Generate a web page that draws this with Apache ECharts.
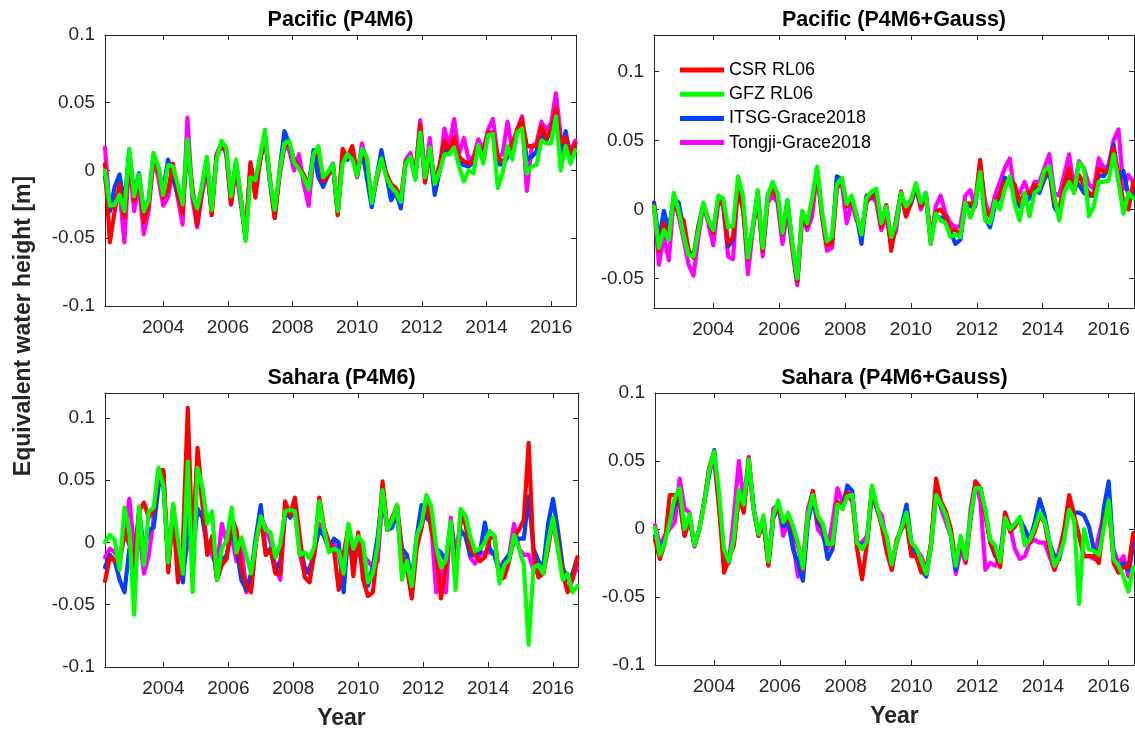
<!DOCTYPE html>
<html>
<head>
<meta charset="utf-8">
<script src="https://cdn.jsdelivr.net/npm/echarts@6/dist/echarts.min.js"></script>
<style>html,body{margin:0;padding:0;background:#fff}#c{width:1135px;height:733px}</style>
</head>
<body>
<div id="c"></div>
<script>
// ---------- data ----------
const years = [2002.2,2002.35,2002.5,2002.65,2002.8,2002.95,2003.1,2003.25,2003.4,2003.55,
2003.7,2003.85,2004.0,2004.15,2004.3,2004.45,2004.6,2004.75,2004.9,2005.05,
2005.2,2005.35,2005.5,2005.65,2005.8,2005.95,2006.1,2006.25,2006.4,2006.55,
2006.7,2006.85,2007.0,2007.15,2007.3,2007.45,2007.6,2007.75,2007.9,2008.05,
2008.2,2008.35,2008.5,2008.65,2008.8,2008.95,2009.1,2009.25,2009.4,2009.55,
2009.7,2009.85,2010.0,2010.15,2010.3,2010.45,2010.6,2010.75,2010.9,2011.05,
2011.2,2011.35,2011.5,2011.65,2011.8,2011.95,2012.1,2012.25,2012.4,2012.55,
2012.7,2012.85,2013.0,2013.15,2013.3,2013.45,2013.6,2013.75,2013.9,2014.05,
2014.2,2014.35,2014.5,2014.65,2014.8,2014.95,2015.1,2015.25,2015.4,2015.55,
2015.7,2015.85,2016.0,2016.15,2016.3,2016.45,2016.6,2016.75];

const xTicks = [2004,2006,2008,2010,2012,2014,2016];
const yTicksFull = [-0.1,-0.05,0,0.05,0.1];
const yTicksPacGauss = [-0.05,0,0.05,0.1];
const seriesNames = ['CSR RL06','GFZ RL06','ITSG-Grace2018','Tongji-Grace2018'];
const panelTitles = ['Pacific (P4M6)','Pacific (P4M6+Gauss)','Sahara (P4M6)','Sahara (P4M6+Gauss)'];
const yLabel = 'Equivalent water height [m]';
const xLabel = 'Year';

// Pacific (P4M6)
const pacP4M6_CSR = [0.005,-0.053,-0.030,-0.010,-0.035,0.010,-0.022,-0.005,-0.038,-0.025,
0.010,0.000,-0.020,-0.015,0.005,-0.015,-0.032,0.020,-0.012,-0.040,
-0.015,0.008,-0.033,0.010,0.018,0.015,-0.025,0.005,-0.020,-0.050,
0.006,-0.020,0.008,0.025,-0.005,-0.035,-0.003,0.018,0.020,0.008,
0.002,-0.003,-0.012,0.012,0.014,-0.008,-0.003,0.005,-0.033,0.016,
0.010,0.018,-0.002,0.014,0.008,-0.022,-0.007,0.008,-0.002,-0.010,
-0.013,-0.020,0.006,0.010,-0.003,0.034,-0.009,0.015,-0.008,0.004,
0.022,0.015,0.025,0.010,0.007,0.005,0.008,0.019,0.012,0.028,
0.028,0.010,0.006,0.012,0.020,0.030,0.038,0.018,0.018,0.018,
0.033,0.024,0.030,0.046,0.020,0.025,0.012,0.020];
const pacP4M6_GFZ = [0.000,-0.026,-0.025,-0.018,-0.030,0.016,-0.019,-0.003,-0.030,-0.022,
0.013,0.003,-0.018,0.004,0.003,-0.010,-0.025,0.023,-0.017,-0.028,
-0.012,0.010,-0.029,0.008,0.022,0.017,-0.019,0.008,-0.020,-0.052,
-0.005,-0.007,0.011,0.030,-0.007,-0.029,-0.001,0.020,0.022,0.006,
0.001,-0.005,-0.014,0.012,0.018,-0.005,-0.001,0.005,-0.030,0.005,
0.012,0.008,-0.004,0.016,0.010,-0.024,-0.005,0.009,-0.005,-0.012,
-0.016,-0.023,0.005,0.010,-0.007,0.028,-0.005,0.017,-0.010,-0.001,
0.012,0.012,0.017,0.003,-0.008,0.000,-0.002,0.019,0.005,0.026,
0.027,-0.013,-0.002,0.018,0.008,0.028,0.031,-0.002,0.003,0.004,
0.022,0.020,0.020,0.040,0.000,0.018,0.005,0.015];
const pacP4M6_ITSG = [-0.005,-0.030,-0.012,-0.003,-0.025,0.015,-0.018,-0.002,-0.030,-0.022,
0.012,0.002,-0.015,0.008,-0.005,-0.018,-0.025,0.020,-0.015,-0.030,
-0.012,0.008,-0.030,0.010,0.020,0.015,-0.020,0.006,-0.020,-0.050,
0.004,-0.010,0.008,0.025,-0.008,-0.035,0.000,0.029,0.020,0.006,
0.002,-0.004,-0.012,0.015,-0.005,-0.012,-0.003,0.005,-0.032,0.010,
0.008,0.015,-0.004,0.015,-0.005,-0.027,-0.006,0.015,-0.003,-0.022,
-0.015,-0.028,0.006,0.010,-0.006,0.030,-0.007,0.015,-0.018,0.000,
0.018,0.012,0.020,0.006,0.004,0.003,0.006,0.018,0.012,0.027,
0.027,0.005,0.004,0.010,0.016,0.028,0.034,0.008,0.010,0.014,
0.028,0.022,0.031,0.042,0.010,0.029,0.010,0.020];
const pacP4M6_Tongji = [0.017,-0.030,-0.020,-0.015,-0.053,0.010,-0.030,-0.010,-0.047,-0.030,
0.008,-0.005,-0.026,-0.020,0.000,-0.020,-0.040,0.039,-0.020,-0.042,
-0.018,0.000,-0.030,0.012,0.020,0.012,-0.025,0.002,-0.025,-0.050,
0.003,-0.012,0.008,0.025,-0.008,-0.032,-0.003,0.018,0.015,0.000,
0.012,-0.010,-0.026,0.010,0.012,-0.010,-0.004,0.003,-0.030,0.012,
0.008,0.012,-0.005,0.020,0.005,-0.024,-0.005,0.012,-0.004,-0.015,
-0.018,-0.025,0.008,0.013,-0.004,0.037,-0.005,0.024,-0.016,0.000,
0.031,0.018,0.038,0.012,0.024,0.008,0.010,0.023,0.015,0.030,
0.038,0.010,0.012,0.036,0.015,0.030,0.040,-0.015,0.018,0.020,
0.036,0.030,0.035,0.057,0.025,0.022,0.015,0.022];

// Pacific (P4M6+Gauss)
const pacGauss_CSR = [0.003,-0.030,-0.010,-0.020,0.010,-0.004,-0.008,-0.030,-0.035,-0.012,
0.003,-0.008,-0.017,0.006,0.005,-0.025,-0.020,0.015,0.000,-0.036,
-0.013,0.010,-0.030,0.008,0.015,0.008,-0.018,0.005,-0.027,-0.052,
-0.003,-0.012,0.005,0.028,-0.005,-0.026,-0.025,0.016,0.021,0.002,
0.007,-0.005,-0.018,0.005,0.010,0.010,-0.013,0.003,-0.030,-0.008,
0.013,-0.005,0.005,0.018,0.002,0.010,-0.020,-0.002,0.000,-0.005,
-0.015,-0.015,-0.018,0.005,0.004,0.005,0.036,0.000,-0.005,0.005,
0.012,0.020,0.022,0.018,0.005,0.012,0.012,0.018,0.015,0.025,
0.030,0.005,0.000,0.018,0.030,0.012,0.025,0.018,0.012,0.010,
0.030,0.027,0.028,0.045,0.025,0.005,0.000,0.020];
const pacGauss_GFZ = [0.002,-0.028,-0.015,-0.022,0.012,-0.001,-0.019,-0.033,-0.034,-0.015,
0.005,-0.008,-0.015,0.010,0.008,-0.013,-0.012,0.024,0.010,-0.035,
-0.013,0.014,-0.028,0.009,0.020,0.012,-0.017,0.007,-0.025,-0.050,
-0.001,-0.010,0.008,0.031,-0.001,-0.023,-0.020,0.018,0.023,0.004,
0.010,-0.004,-0.018,0.008,0.013,0.015,-0.010,0.002,-0.020,-0.010,
0.012,0.002,0.007,0.019,0.005,0.012,-0.025,-0.003,-0.008,-0.010,
-0.020,-0.018,-0.020,0.005,-0.006,0.004,0.027,-0.008,-0.010,0.006,
0.000,0.015,0.024,0.004,-0.008,0.012,-0.005,0.012,0.015,0.028,
0.031,0.010,-0.008,0.012,0.020,0.012,0.034,0.030,-0.005,0.002,
0.020,0.020,0.021,0.040,0.020,-0.003,0.012,0.008];
const pacGauss_ITSG = [0.005,-0.022,-0.001,-0.015,0.008,0.005,-0.015,-0.030,-0.034,-0.012,
0.004,-0.008,-0.015,0.008,0.005,-0.027,-0.022,0.018,0.003,-0.033,
-0.013,0.012,-0.029,0.010,0.018,0.010,-0.018,0.006,-0.026,-0.052,
-0.002,-0.012,0.006,0.028,-0.003,-0.025,-0.024,0.024,0.022,0.003,
0.006,-0.004,-0.025,0.010,0.008,0.012,-0.012,0.003,-0.025,-0.008,
0.012,-0.003,0.004,0.016,0.003,0.012,-0.022,-0.005,-0.006,-0.006,
-0.016,-0.025,-0.022,0.004,0.002,0.003,0.028,-0.006,-0.013,0.003,
0.010,0.023,0.020,0.010,0.002,0.005,0.008,0.015,0.012,0.022,
0.028,0.002,-0.004,0.015,0.022,0.020,0.018,0.012,0.010,0.010,
0.025,0.024,0.030,0.047,0.020,0.028,0.010,0.012];
const pacGauss_Tongji = [0.003,-0.040,-0.020,-0.037,0.008,-0.005,-0.022,-0.040,-0.048,-0.020,
0.003,-0.010,-0.026,0.005,0.003,-0.034,-0.036,0.020,0.005,-0.047,
-0.015,0.010,-0.034,0.005,0.010,0.005,-0.025,0.000,-0.030,-0.055,
-0.005,-0.015,-0.005,0.028,-0.005,-0.030,-0.028,0.015,0.020,-0.010,
0.005,-0.008,-0.015,0.005,0.010,0.005,-0.015,-0.005,-0.025,-0.015,
0.012,-0.005,0.005,0.016,0.000,0.010,-0.025,0.002,0.010,-0.003,
-0.010,-0.013,-0.012,0.010,0.014,0.002,0.033,0.005,-0.005,0.010,
0.020,0.030,0.037,0.010,0.012,0.020,0.010,0.020,0.020,0.030,
0.040,0.012,0.010,0.025,0.040,0.015,0.035,0.030,0.018,0.015,
0.037,0.030,0.032,0.050,0.058,0.015,0.025,0.020];

// Sahara (P4M6)
const sahP4M6_CSR = [-0.031,-0.012,-0.015,-0.015,0.010,-0.002,-0.015,0.025,0.032,0.020,
0.025,0.058,0.058,-0.024,0.030,-0.032,0.000,0.108,-0.010,0.076,
0.035,-0.010,0.005,-0.030,-0.018,-0.013,0.020,0.010,-0.020,-0.035,
-0.040,0.000,0.020,-0.010,-0.006,-0.025,-0.025,0.033,0.022,0.036,
0.005,-0.028,-0.032,-0.008,0.036,0.012,0.000,-0.005,-0.038,-0.010,
0.013,-0.027,0.008,-0.030,-0.043,-0.040,-0.005,0.049,0.010,0.020,
0.030,-0.010,-0.020,-0.045,-0.005,0.012,0.035,0.010,-0.005,-0.045,
-0.020,0.015,-0.030,0.022,0.015,-0.005,-0.010,-0.015,-0.012,0.003,
0.005,-0.030,-0.028,-0.015,0.005,0.010,0.018,0.080,-0.010,-0.028,
-0.025,-0.005,0.020,0.000,-0.025,-0.040,-0.030,-0.012];
const sahP4M6_GFZ = [0.000,0.006,0.002,-0.022,0.028,0.010,-0.058,0.029,-0.018,0.025,
0.028,0.060,0.045,-0.016,0.031,0.002,-0.025,0.065,-0.040,0.060,
0.045,0.015,0.025,-0.030,-0.005,0.002,0.028,-0.008,0.004,-0.010,
-0.025,0.000,0.021,0.010,0.008,-0.012,-0.001,0.025,0.026,0.025,
-0.010,-0.008,-0.013,-0.003,0.033,0.010,-0.008,-0.005,-0.007,-0.025,
0.015,-0.005,0.005,0.000,-0.032,-0.025,-0.003,0.042,0.010,0.018,
0.030,-0.030,-0.015,-0.035,0.005,0.015,0.038,0.029,-0.003,-0.020,
-0.014,0.017,-0.038,0.027,0.022,0.005,-0.007,-0.005,0.000,0.009,
0.005,-0.033,-0.018,-0.014,0.006,-0.005,-0.018,-0.082,-0.020,-0.018,
-0.025,0.000,0.020,-0.005,-0.030,-0.025,-0.040,-0.035];
const sahP4M6_ITSG = [-0.020,-0.010,-0.015,-0.030,-0.040,-0.005,-0.020,0.025,-0.005,0.010,
0.012,0.045,0.055,-0.020,0.028,-0.010,-0.032,0.020,-0.010,0.027,
0.020,-0.005,0.003,-0.030,-0.015,-0.010,0.010,-0.005,-0.030,-0.038,
-0.025,0.005,0.030,-0.008,-0.005,-0.022,-0.015,0.025,0.020,0.030,
0.000,-0.020,-0.025,-0.005,0.010,0.005,-0.005,0.003,0.000,-0.040,
0.010,-0.012,-0.005,-0.020,-0.035,-0.020,0.005,0.040,0.010,0.012,
0.025,-0.005,-0.010,-0.030,0.005,0.030,0.020,0.015,-0.005,-0.008,
-0.015,0.015,-0.020,0.010,0.005,-0.010,-0.010,-0.008,0.016,-0.005,
-0.010,-0.025,-0.015,-0.010,0.000,0.003,0.003,0.037,-0.005,-0.015,
-0.020,0.015,0.035,0.010,-0.020,-0.030,-0.025,-0.012];
const sahP4M6_Tongji = [-0.012,-0.005,-0.008,-0.015,0.005,0.035,-0.005,0.010,-0.025,-0.010,
0.020,0.050,0.045,-0.015,0.020,-0.030,-0.025,0.000,0.010,0.065,
0.030,-0.005,-0.010,-0.020,0.015,0.000,0.005,-0.015,0.000,-0.040,
-0.030,0.000,0.020,0.012,0.000,-0.020,-0.030,0.025,0.020,0.025,
-0.010,-0.025,-0.020,-0.010,0.015,0.005,-0.005,0.000,-0.010,-0.030,
0.010,-0.008,0.005,-0.010,-0.015,-0.020,-0.015,0.035,0.010,0.015,
0.025,-0.025,-0.020,-0.040,0.000,0.012,0.030,0.015,-0.040,-0.020,
-0.040,0.020,-0.010,0.015,0.020,-0.012,-0.017,-0.010,-0.008,-0.008,
-0.010,-0.020,-0.015,-0.010,0.015,-0.005,-0.010,-0.010,-0.022,-0.025,
-0.020,0.005,0.015,-0.005,-0.025,-0.030,-0.028,-0.020];

// Sahara (P4M6+Gauss)
const sahGauss_CSR = [-0.008,-0.022,-0.010,0.025,0.025,0.020,-0.005,0.008,-0.012,0.000,
0.020,0.045,0.057,0.017,-0.032,-0.022,-0.012,0.025,0.012,0.052,
0.015,-0.005,0.005,-0.027,0.010,0.016,0.005,0.008,0.000,-0.012,
-0.030,0.010,0.028,0.008,0.002,-0.010,-0.012,0.020,0.015,0.027,
0.024,-0.015,-0.037,-0.010,0.030,0.015,0.002,-0.017,-0.030,-0.008,
0.000,0.005,-0.020,-0.020,-0.032,-0.032,-0.010,0.037,0.020,0.013,
0.000,-0.025,-0.008,-0.024,0.008,0.035,0.030,0.010,-0.010,-0.018,
-0.028,0.012,-0.002,0.002,0.008,-0.010,-0.010,-0.002,0.010,0.005,
-0.015,-0.030,-0.020,0.000,0.025,0.010,-0.005,-0.020,-0.020,-0.020,
-0.025,0.005,0.020,-0.025,-0.032,-0.028,-0.028,-0.003];
const sahGauss_GFZ = [0.001,-0.019,-0.010,0.005,0.023,0.030,0.000,0.011,-0.012,0.000,
0.019,0.043,0.057,0.026,-0.015,-0.024,-0.007,0.029,0.018,0.051,
0.015,-0.004,0.010,-0.024,0.010,0.021,0.005,0.012,0.002,-0.010,
-0.029,0.010,0.025,0.010,0.004,-0.011,-0.011,0.018,0.015,0.024,
0.025,-0.010,-0.015,-0.009,0.032,0.017,0.004,-0.005,-0.026,-0.010,
0.001,0.012,-0.010,-0.014,-0.023,-0.033,-0.012,0.025,0.018,0.010,
-0.005,-0.027,-0.005,-0.022,0.010,0.030,0.030,0.014,-0.008,-0.012,
-0.024,0.008,0.000,0.004,0.009,-0.012,-0.008,0.001,0.012,0.006,
-0.010,-0.027,-0.020,-0.008,0.014,0.007,-0.055,0.000,-0.015,-0.016,
-0.019,0.000,0.021,-0.022,-0.027,-0.035,-0.046,-0.028];
const sahGauss_ITSG = [-0.005,-0.015,-0.008,0.005,0.017,0.022,-0.005,0.008,-0.012,0.000,
0.020,0.040,0.058,0.020,-0.025,-0.020,-0.010,0.025,0.015,0.048,
0.015,-0.005,0.008,-0.025,0.008,0.016,0.002,0.005,-0.015,-0.025,
-0.038,0.005,0.022,0.005,0.000,-0.022,-0.015,0.018,0.015,0.032,
0.028,-0.010,-0.012,-0.010,0.025,0.015,0.003,-0.015,-0.025,-0.010,
0.002,0.018,-0.010,-0.020,-0.030,-0.035,-0.012,0.025,0.017,0.010,
-0.005,-0.030,-0.008,-0.022,0.008,0.033,0.030,0.012,-0.010,-0.020,
-0.020,0.005,0.002,0.003,0.007,0.000,-0.008,0.005,0.022,0.010,
-0.010,-0.020,-0.022,-0.005,0.020,0.012,0.012,0.010,0.002,-0.015,
-0.020,0.015,0.035,-0.020,-0.028,-0.025,-0.030,-0.010];
const sahGauss_Tongji = [0.003,-0.012,-0.005,0.000,0.005,0.037,0.015,0.012,-0.013,0.000,
0.020,0.045,0.050,0.015,-0.020,-0.025,0.010,0.050,0.020,0.053,
0.015,-0.005,0.005,-0.025,0.015,0.018,-0.005,0.005,-0.010,-0.035,
-0.025,0.015,0.027,0.000,-0.005,-0.015,0.005,0.030,0.020,0.025,
0.020,-0.010,-0.010,-0.005,0.030,0.015,0.010,-0.010,-0.030,-0.010,
0.000,0.010,-0.015,-0.015,-0.020,-0.030,-0.010,0.030,0.015,0.005,
-0.005,-0.033,-0.015,-0.025,0.015,0.035,0.020,-0.030,-0.025,-0.027,
-0.020,0.012,0.002,-0.015,-0.022,-0.020,-0.010,-0.008,-0.010,-0.010,
-0.020,-0.030,-0.015,0.000,0.022,0.005,-0.005,-0.020,-0.020,-0.022,
-0.005,0.010,0.015,-0.015,-0.025,-0.020,-0.035,-0.010];

// ---------- chart ----------
const FONT = "'Liberation Sans', Arial, Helvetica, sans-serif";
const AX = '#262626';
const colors = {'CSR RL06':'#ff0000','GFZ RL06':'#00ff00','ITSG-Grace2018':'#0040ff','Tongji-Grace2018':'#ff00ff'};

const panels = [
  {grid:{left:105, top:35, width:471, height:271}, ymin:-0.1, ymax:0.1, yticks:yTicksFull,
   data:{'CSR RL06':pacP4M6_CSR,'GFZ RL06':pacP4M6_GFZ,'ITSG-Grace2018':pacP4M6_ITSG,'Tongji-Grace2018':pacP4M6_Tongji}},
  {grid:{left:654, top:35, width:480, height:273}, ymin:-0.0715, ymax:0.1265, yticks:yTicksPacGauss,
   data:{'CSR RL06':pacGauss_CSR,'GFZ RL06':pacGauss_GFZ,'ITSG-Grace2018':pacGauss_ITSG,'Tongji-Grace2018':pacGauss_Tongji}},
  {grid:{left:105, top:393, width:473, height:274}, ymin:-0.1, ymax:0.12, yticks:yTicksFull,
   data:{'CSR RL06':sahP4M6_CSR,'GFZ RL06':sahP4M6_GFZ,'ITSG-Grace2018':sahP4M6_ITSG,'Tongji-Grace2018':sahP4M6_Tongji}},
  {grid:{left:655, top:393, width:479, height:272}, ymin:-0.1, ymax:0.1, yticks:yTicksFull,
   data:{'CSR RL06':sahGauss_CSR,'GFZ RL06':sahGauss_GFZ,'ITSG-Grace2018':sahGauss_ITSG,'Tongji-Grace2018':sahGauss_Tongji}}
];

const xMin = 2002.2, xMax = 2016.77;
const grids = [], xAxes = [], yAxes = [], series = [], graphics = [];
const drawOrder = ['Tongji-Grace2018','ITSG-Grace2018','CSR RL06','GFZ RL06'];

panels.forEach((p, g) => {
  grids.push(Object.assign({containLabel:false, show:false}, p.grid));
  ['bottom','top'].forEach((pos, k) => {
    xAxes.push({
      type:'value', gridIndex:g, position:pos, min:xMin, max:xMax,
      axisLine:{show:true, onZero:false, lineStyle:{color:AX, width:1}},
      axisTick:{show:true, inside:true, length:5, customValues:xTicks, lineStyle:{color:AX, width:1}},
      axisLabel:{show:k===0, customValues:xTicks, formatter:v=>String(v), color:AX, fontSize:19, fontFamily:FONT, margin:12},
      splitLine:{show:false}
    });
  });
  ['left','right'].forEach((pos, k) => {
    yAxes.push({
      type:'value', gridIndex:g, position:pos, min:p.ymin, max:p.ymax,
      axisLine:{show:true, onZero:false, lineStyle:{color:AX, width:1}},
      axisTick:{show:true, inside:true, length:5, customValues:p.yticks, lineStyle:{color:AX, width:1}},
      axisLabel:{show:k===0, customValues:p.yticks, formatter:v=>String(v), color:AX, fontSize:19, fontFamily:FONT, margin:10},
      splitLine:{show:false}
    });
  });
  drawOrder.forEach((name, j) => {
    const arr = p.data[name];
    series.push({
      type:'line', name:name, xAxisIndex:2*g, yAxisIndex:2*g,
      data: years.map((x,i)=>[x, arr[i]]),
      symbol:'none', showSymbol:false, clip:true,
      lineStyle:{width:4.2, color:colors[name], cap:'round', join:'round'},
      itemStyle:{color:colors[name]},
      z: 2 + j, animation:false
    });
  });
  const cx = p.grid.left + p.grid.width/2;
  graphics.push({type:'text', x:cx, y:p.grid.top - 15,
    style:{text:panelTitles[g], fontSize:21.5, fontWeight:'bold', fontFamily:FONT, fill:'#000', align:'center', verticalAlign:'middle'}});
  if (g >= 2) {
    graphics.push({type:'text', x:cx, y:g===2?719:717,
      style:{text:xLabel, fontSize:23, fontWeight:'bold', fontFamily:FONT, fill:AX, align:'center', verticalAlign:'middle'}});
  }
});

graphics.push({type:'text', x:24, y:326, rotation:Math.PI/2,
  style:{text:yLabel, fontSize:23, fontWeight:'bold', fontFamily:FONT, fill:AX, align:'center', verticalAlign:'middle'}});

const chart = echarts.init(document.getElementById('c'), null, {renderer:'canvas'});
chart.setOption({
  backgroundColor:'#ffffff',
  animation:false,
  grid:grids, xAxis:xAxes, yAxis:yAxes, series:series,
  legend:{
    data:seriesNames, orient:'vertical', left:675, top:56, padding:5,
    icon:'rect', itemWidth:44, itemHeight:5, itemGap:6.2,
    selectedMode:false,
    textStyle:{fontSize:18, color:'#000', fontFamily:FONT}
  },
  graphic:graphics
});
</script>
</body>
</html>
